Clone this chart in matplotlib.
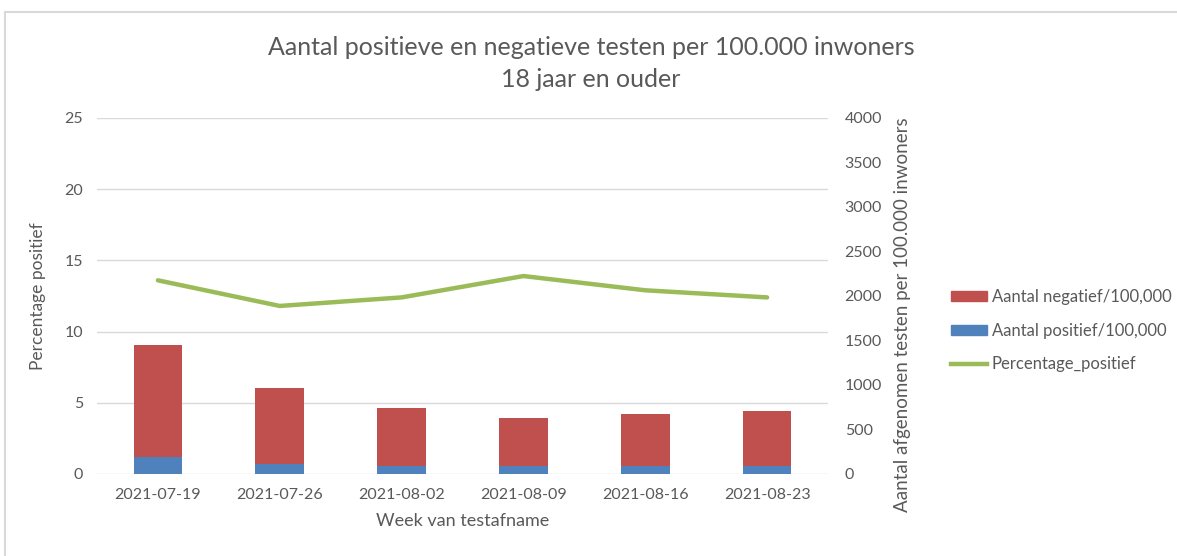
import matplotlib.pyplot as plt
import numpy as np
from matplotlib.patches import Rectangle, Patch
from matplotlib.lines import Line2D

weeks = ['2021-07-19', '2021-07-26', '2021-08-02', '2021-08-09', '2021-08-16', '2021-08-23']
positief = [195, 112, 90, 87, 86, 87]
negatief = [1255, 851, 648, 546, 585, 621]
percentage = [13.6, 11.8, 12.4, 13.9, 12.9, 12.4]

red = '#c0504d'
blue = '#4f81bd'
green = '#9bbb59'
grey = '#595959'

plt.rcParams['font.family'] = ['Lato', 'DejaVu Sans']

fig = plt.figure(figsize=(11.77, 5.56), dpi=100)
ax = fig.add_axes([0.0824, 0.1475, 0.6211, 0.6403])
ax2 = ax.twinx()

x = np.arange(len(weeks))

# percentage line on left axis
ax.plot(x, percentage, color=green, linewidth=3.2, solid_capstyle='round')
ax.set_ylim(0, 25)
ax.set_yticks([0, 5, 10, 15, 20, 25])
ax.grid(axis='y', color='#d9d9d9', linewidth=1)
ax.set_axisbelow(True)

# stacked bars on right axis
ax2.bar(x, positief, width=0.4, color=blue)
ax2.bar(x, negatief, width=0.4, bottom=positief, color=red)
ax2.set_ylim(0, 4000)
ax2.set_yticks(range(0, 4001, 500))

ax.set_xlim(-0.5, len(weeks) - 0.5)
ax.set_xticks(x)
ax.set_xticklabels(weeks)

for a in (ax, ax2):
    for s in a.spines.values():
        s.set_visible(False)
    a.tick_params(length=0, colors=grey, labelsize=11.5)
ax.tick_params(axis='y', pad=10)
ax2.tick_params(axis='y', pad=12)
ax.tick_params(axis='x', pad=10)

ax.set_xlabel('Week van testafname', color=grey, fontsize=13, labelpad=8)
ax.set_ylabel('Percentage positief', color=grey, fontsize=12.5)
ax.yaxis.set_label_coords(-0.07, 0.5)
ax2.set_ylabel('Aantal afgenomen testen per 100.000 inwoners', color=grey, fontsize=13.5)
ax2.yaxis.set_label_coords(1.09, 0.447)

fig.text(0.502, 0.915, 'Aantal positieve en negatieve testen per 100.000 inwoners',
         ha='center', va='center', fontsize=18, color=grey)
fig.text(0.502, 0.857, '18 jaar en ouder', ha='center', va='center', fontsize=18, color=grey)

handles = [Patch(color=red), Patch(color=blue), Line2D([], [], color=green, linewidth=3.2)]
labels = ['Aantal negatief/100,000', 'Aantal positief/100,000', 'Percentage_positief']
leg = fig.legend(handles, labels, loc='center left', bbox_to_anchor=(0.795, 0.405),
                 frameon=False, fontsize=12, handlelength=2.2, handleheight=0.55,
                 handletextpad=0.25, labelspacing=1.05)
for t in leg.get_texts():
    t.set_color(grey)

fig.patches.append(Rectangle((0.004, -0.02), 1.05, 0.998, transform=fig.transFigure,
                             fill=False, edgecolor='#d9d9d9', linewidth=1.5))

fig.savefig('out.png', dpi=100)
